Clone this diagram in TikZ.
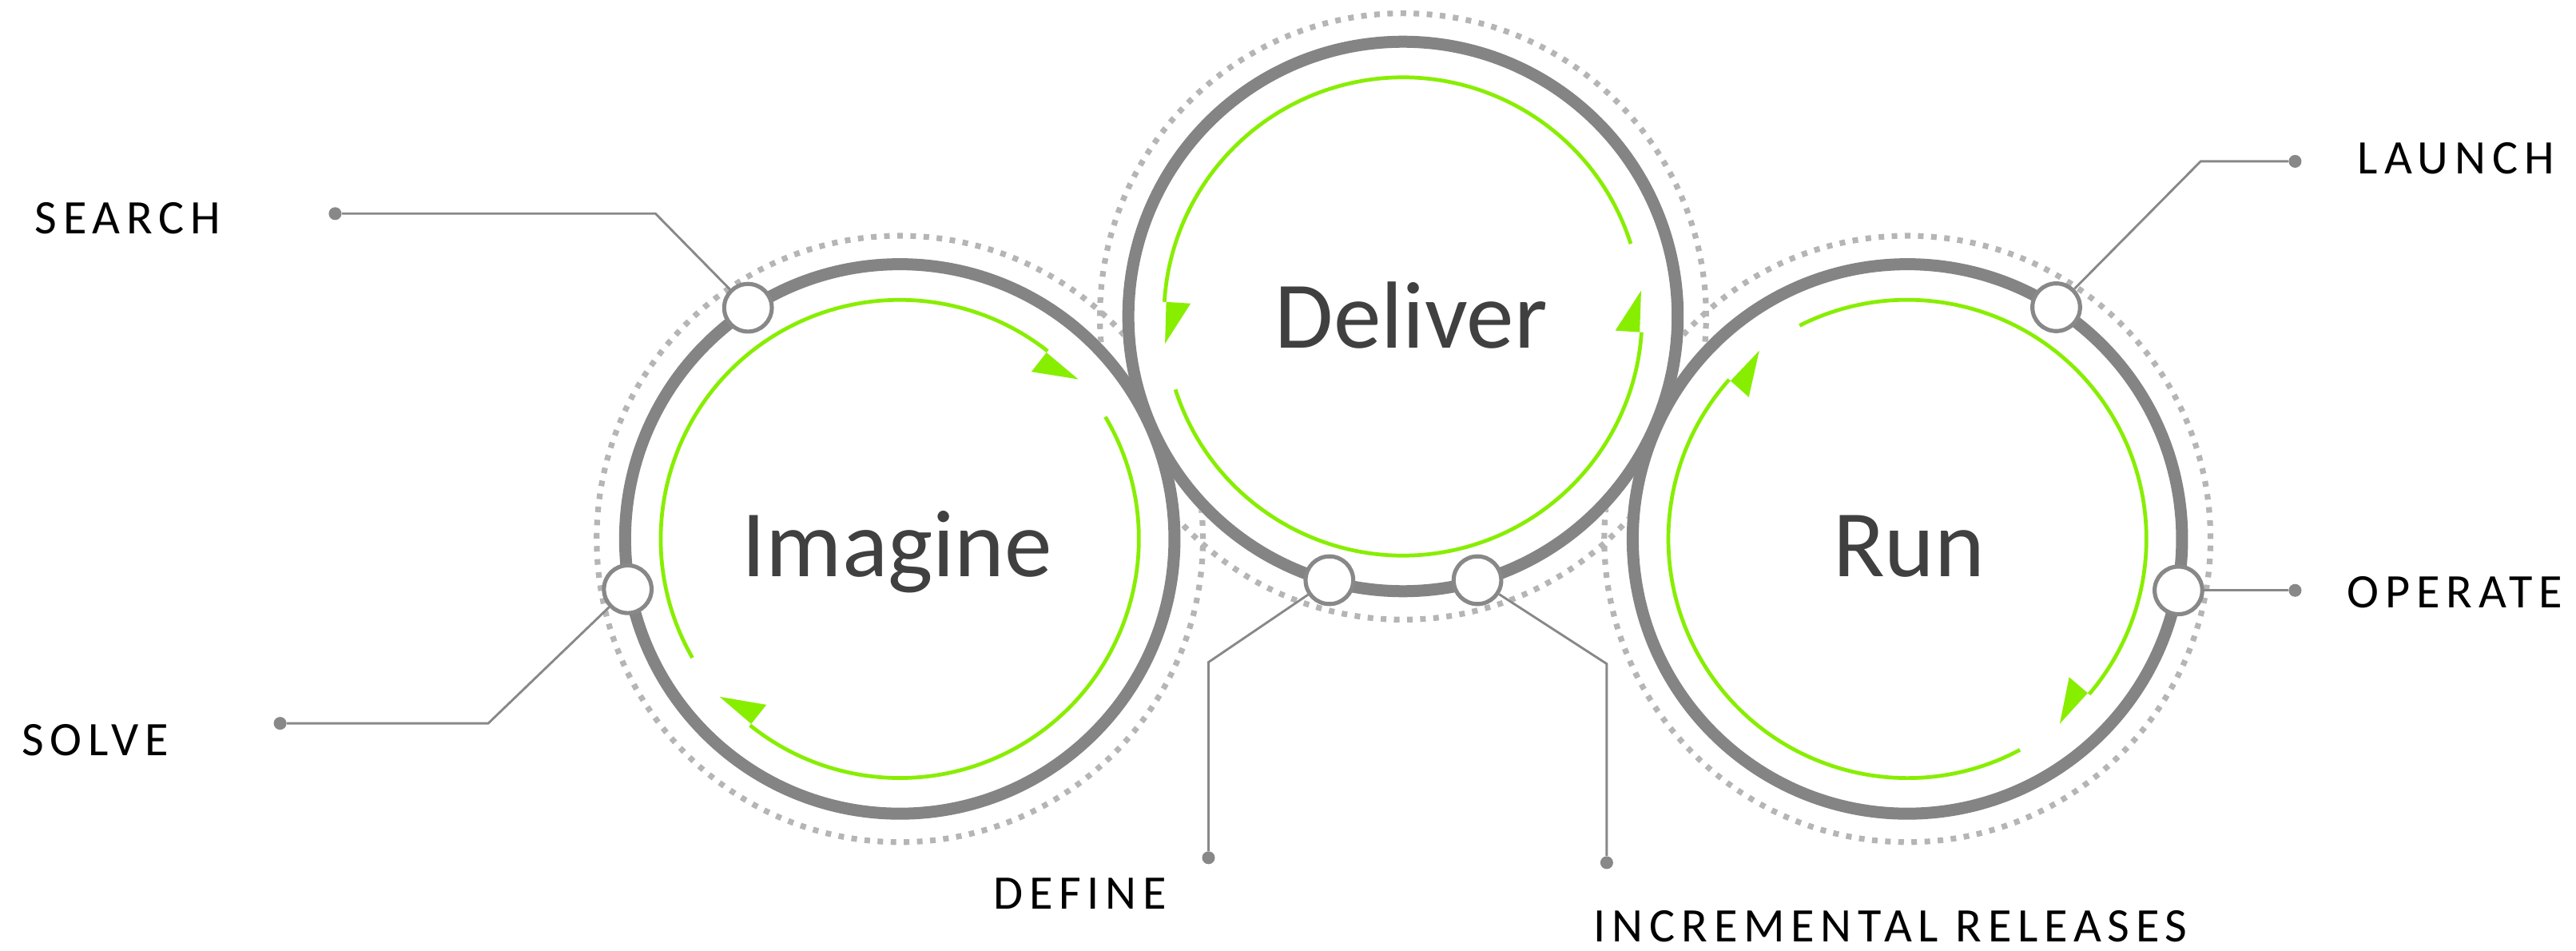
\documentclass[tikz,border=0pt]{standalone}
\usepackage{fontspec}
\setmainfont{Carlito}
\newfontfamily\labelfont[LetterSpace=13]{Carlito}
\usetikzlibrary{calc}
\definecolor{ringgray}{HTML}{848484}
\definecolor{dotgray}{HTML}{B5B5B5}
\definecolor{grn}{HTML}{88EE00}
\definecolor{conngray}{HTML}{888888}
\definecolor{bigtxt}{HTML}{404040}
\begin{document}
\begin{tikzpicture}[x=1pt,y=1pt,
  dotring/.style={draw=dotgray, line width=3.5pt, dash pattern=on 3.4pt off 4.6pt},
  mainring/.style={draw=ringgray, line width=7.3pt},
  garc/.style={draw=grn, line width=2.3pt},
  ghead/.style={fill=grn},
  port/.style={circle, draw=conngray, line width=2.5pt, fill=white, minimum size=29pt, inner sep=0pt},
  enddot/.style={circle, fill=conngray, minimum size=7.8pt, inner sep=0pt},
  conline/.style={draw=conngray, line width=1.4pt},
  biglabel/.style={font=\fontsize{58}{58}\selectfont, text=bigtxt, anchor=base, inner sep=0pt},
  steplabel/.style={font=\labelfont\fontsize{29.3}{30}\selectfont, text=black, anchor=base west, inner sep=0pt, text depth=0pt},
]
\useasboundingbox (0,0) rectangle (1568,578.3);

\coordinate (cI) at (547.7,250.3);
\coordinate (cD) at (854,385.7);
\coordinate (cR) at (1161,250.3);

% dotted outer rings
\draw[dotring] (cI) circle[radius=184.5];
\draw[dotring] (cD) circle[radius=184.5];
\draw[dotring] (cR) circle[radius=184.5];

% white discs
\fill[white] (cI) circle[radius=171];
\fill[white] (cD) circle[radius=171];
\fill[white] (cR) circle[radius=171];

% gray rings
\draw[mainring] (cI) circle[radius=167.2];
\draw[mainring] (cD) circle[radius=167.2];
\draw[mainring] (cR) circle[radius=167.2];

% green arcs: Imagine (clockwise)
\begin{scope}[shift={(cI)}]
  \draw[garc] (209.8:145.5) arc[start angle=209.8, end angle=51.8, radius=145.5];
  \fill[ghead] (41.8:145.8) -- (51.8:144.4) -- (51.8:129.5) -- cycle;
  \draw[garc] (30.7:145.5) arc[start angle=30.7, end angle=-128.8, radius=145.5];
  \fill[ghead] (-138.8:145.8) -- (-128.8:144.4) -- (-128.8:129.5) -- cycle;
\end{scope}
% Deliver (counter-clockwise)
\begin{scope}[shift={(cD)}]
  \draw[garc] (17.7:145.5) arc[start angle=17.7, end angle=176.5, radius=145.5];
  \fill[ghead] (186.5:145.8) -- (176.5:144.4) -- (176.5:129.5) -- cycle;
  \draw[garc] (197.8:145.5) arc[start angle=197.8, end angle=356.2, radius=145.5];
  \fill[ghead] (366.2:145.8) -- (356.2:144.4) -- (356.2:129.5) -- cycle;
\end{scope}
% Run (clockwise)
\begin{scope}[shift={(cR)}]
  \draw[garc] (116.8:145.5) arc[start angle=116.8, end angle=-40.5, radius=145.5];
  \fill[ghead] (-50.5:145.8) -- (-40.5:144.4) -- (-40.5:129.5) -- cycle;
  \draw[garc] (-61.9:145.5) arc[start angle=-61.9, end angle=-221.8, radius=145.5];
  \fill[ghead] (-231.8:145.8) -- (-221.8:144.4) -- (-221.8:129.5) -- cycle;
\end{scope}

% ports
\node[port] (pSearch) at (455.3,391) {};
\node[port] (pSolve) at (382.1,219.7) {};
\node[port] (pDefine) at (809.2,225.2) {};
\node[port] (pIncr) at (899.3,225.2) {};
\node[port] (pLaunch) at (1251.6,391.3) {};
\node[port] (pOperate) at (1326,219) {};

% elbows and end dots
\coordinate (eSearch) at (399,448.3);
\coordinate (eSolve) at (297.2,138.1);
\coordinate (eDefine) at (735.6,175.3);
\coordinate (eIncr) at (978,174.3);
\coordinate (eLaunch) at (1339.5,480.1);
\node[enddot] (dSearch) at (204,448.3) {};
\node[enddot] (dSolve) at (170.5,138.1) {};
\node[enddot] (dDefine) at (735.6,56.3) {};
\node[enddot] (dIncr) at (978,53.3) {};
\node[enddot] (dLaunch) at (1397,480.1) {};
\node[enddot] (dOperate) at (1397,219) {};

% connectors
\draw[conline] (pSearch) -- (eSearch) -- (dSearch);
\draw[conline] (pSolve) -- (eSolve) -- (dSolve);
\draw[conline] (pDefine) -- (eDefine) -- (dDefine);
\draw[conline] (pIncr) -- (eIncr) -- (dIncr);
\draw[conline] (pLaunch) -- (eLaunch) -- (dLaunch);
\draw[conline] (pOperate) -- (dOperate);

% big labels
\node[biglabel] (tImagine) at (546,227.3) {Imagine};
\node[biglabel] (tDeliver) at (859,366.3) {Deliver};
\node[biglabel] (tRun) at (1162,227.6) {Run};

% step labels
\node[steplabel] (lSearch) at (21,435.8) {SEARCH};
\node[steplabel] (lSolve) at (13,118.3) {SOLVE};
\node[steplabel] (lDefine) at (604.5,25.3) {DEFINE};
\node[steplabel] (lIncr) at (970,5) {INCREMENTAL RELEASES};
\node[steplabel] (lLaunch) at (1435,472.3) {LAUNCH};
\node[steplabel] (lOperate) at (1428.5,208.3) {OPERATE};
\end{tikzpicture}
\end{document}
